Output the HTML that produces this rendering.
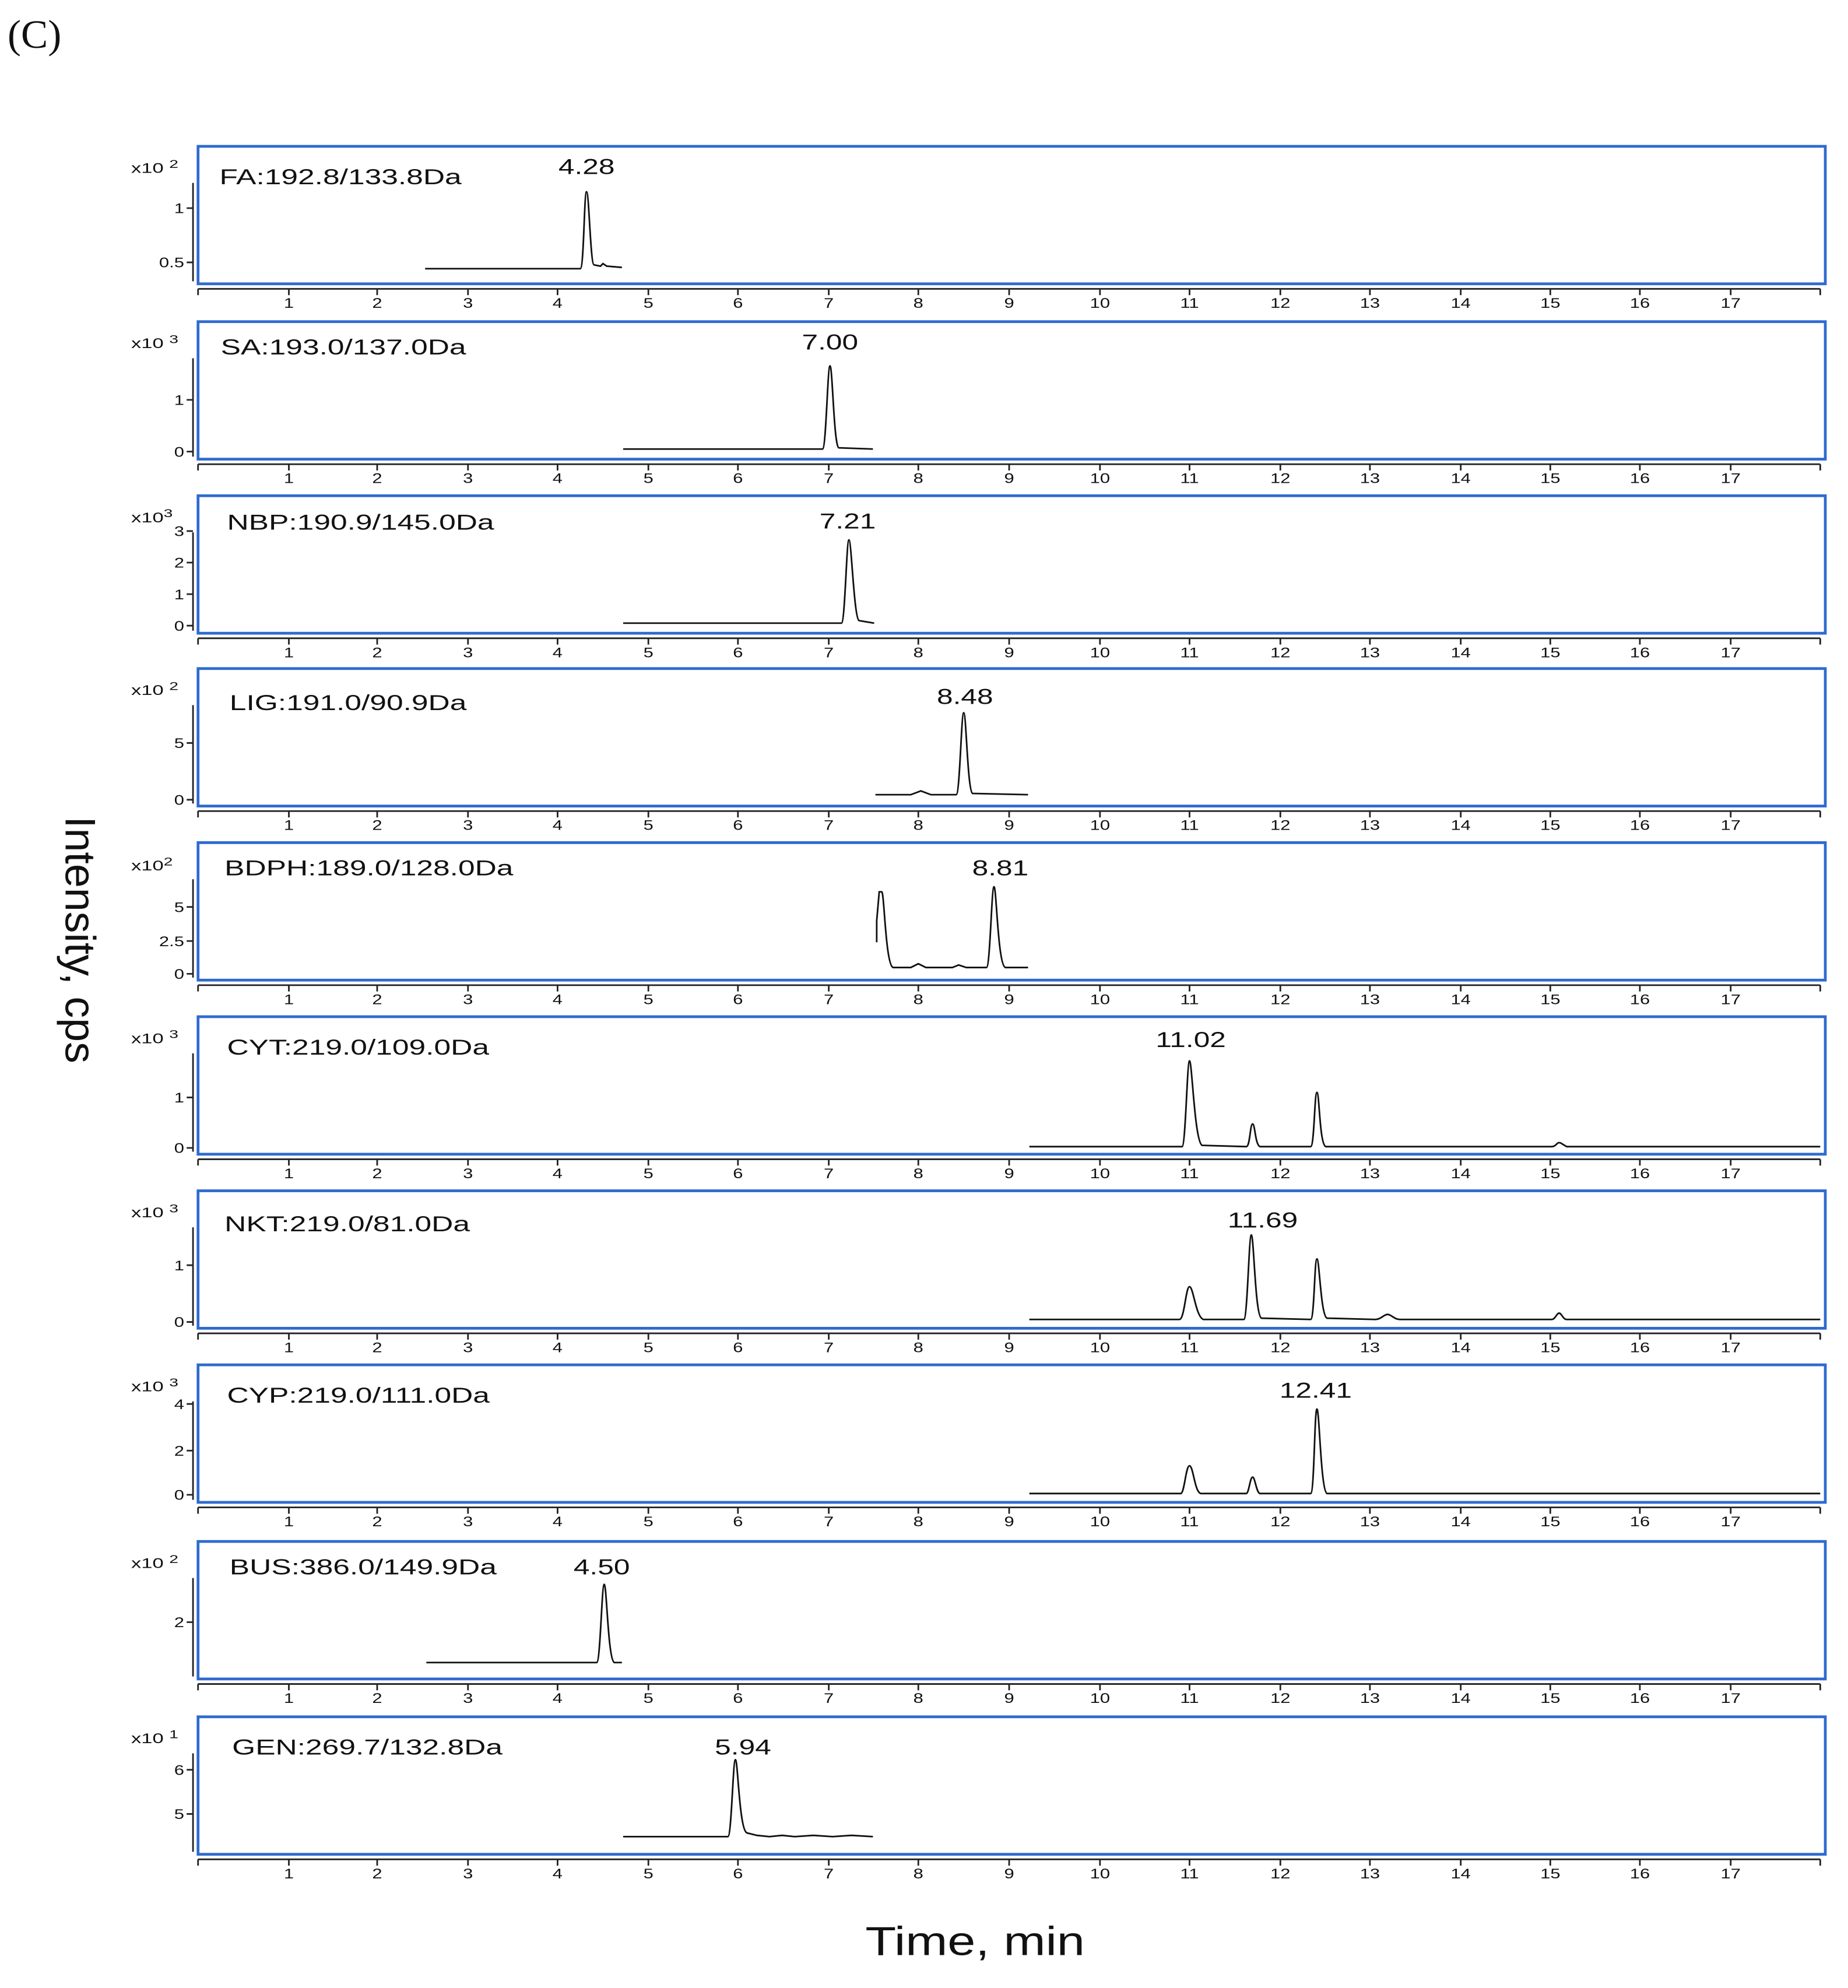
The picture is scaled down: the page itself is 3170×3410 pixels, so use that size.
<!DOCTYPE html>
<html><head><meta charset="utf-8"><style>
html,body{margin:0;padding:0;background:#fff;}
svg{display:block;}
text{font-family:"Liberation Sans",sans-serif;fill:#111;transform-box:fill-box;}
.t{font-size:11px;text-anchor:middle;transform-origin:50% 50%;transform:scaleX(1.3);}
.y{font-size:11px;text-anchor:end;transform-origin:100% 50%;transform:scaleX(1.3);}
.e{font-size:11px;transform-origin:0 50%;transform:scaleX(1.45);}
.lb{font-size:17px;transform-origin:0 50%;transform:scaleX(1.4);}
.pk{font-size:17px;text-anchor:middle;transform-origin:50% 50%;transform:scaleX(1.35);}
.box{fill:none;stroke:#2e6bd0;stroke-width:2.2;}
.ax{stroke:#222;stroke-width:1.3;fill:none;}
.tr{stroke:#111;stroke-width:1.3;fill:none;}
</style></head><body>
<svg width="3170" height="3410" viewBox="0 0 1465 1576" preserveAspectRatio="none" xmlns="http://www.w3.org/2000/svg">
<rect width="1465" height="1576" fill="#fff"/>
<text x="6" y="38" style="font-family:'Liberation Serif',serif;font-size:32px">(C)</text>
<text transform="translate(52,745) rotate(90)" style="font-size:34px;text-anchor:middle;transform-box:view-box">Intensity, cps</text>
<text x="773" y="1550" style="font-size:32px;text-anchor:middle;transform-origin:50% 50%;transform:scaleX(1.25)">Time, min</text>

<defs>
<g id="axis">
<rect class="box" x="157" y="116" width="1290" height="109"/>
<path class="ax" d="M157 229 L1443 229 M157 229 v5 M1443 229 v5 M229 229 v5 M299 229 v5 M371 229 v5 M442 229 v5 M514 229 v5 M585 229 v5 M657 229 v5 M728 229 v5 M800 229 v5 M872 229 v5 M943 229 v5 M1015 229 v5 M1086 229 v5 M1158 229 v5 M1229 229 v5 M1300 229 v5 M1372 229 v5"/>
<path d="M153 145 L153 223" class="ax"/>
</g>
</defs>

<g>
<use href="#axis" transform="translate(0,0)"/>
<use href="#axis" transform="translate(0,139)"/>
<use href="#axis" transform="translate(0,277)"/>
<use href="#axis" transform="translate(0,414)"/>
<use href="#axis" transform="translate(0,552)"/>
<use href="#axis" transform="translate(0,690)"/>
<use href="#axis" transform="translate(0,828)"/>
<use href="#axis" transform="translate(0,966)"/>
<use href="#axis" transform="translate(0,1106)"/>
<use href="#axis" transform="translate(0,1245)"/>
</g>

<g>
<text class="t" x="229" y="244">1</text><text class="t" x="299" y="244">2</text><text class="t" x="371" y="244">3</text><text class="t" x="442" y="244">4</text><text class="t" x="514" y="244">5</text><text class="t" x="585" y="244">6</text><text class="t" x="657" y="244">7</text><text class="t" x="728" y="244">8</text><text class="t" x="800" y="244">9</text><text class="t" x="872" y="244">10</text><text class="t" x="943" y="244">11</text><text class="t" x="1015" y="244">12</text><text class="t" x="1086" y="244">13</text><text class="t" x="1158" y="244">14</text><text class="t" x="1229" y="244">15</text><text class="t" x="1300" y="244">16</text><text class="t" x="1372" y="244">17</text>
</g>
<g transform="translate(0,139)"><text class="t" x="229" y="244">1</text><text class="t" x="299" y="244">2</text><text class="t" x="371" y="244">3</text><text class="t" x="442" y="244">4</text><text class="t" x="514" y="244">5</text><text class="t" x="585" y="244">6</text><text class="t" x="657" y="244">7</text><text class="t" x="728" y="244">8</text><text class="t" x="800" y="244">9</text><text class="t" x="872" y="244">10</text><text class="t" x="943" y="244">11</text><text class="t" x="1015" y="244">12</text><text class="t" x="1086" y="244">13</text><text class="t" x="1158" y="244">14</text><text class="t" x="1229" y="244">15</text><text class="t" x="1300" y="244">16</text><text class="t" x="1372" y="244">17</text></g>
<g transform="translate(0,277)"><text class="t" x="229" y="244">1</text><text class="t" x="299" y="244">2</text><text class="t" x="371" y="244">3</text><text class="t" x="442" y="244">4</text><text class="t" x="514" y="244">5</text><text class="t" x="585" y="244">6</text><text class="t" x="657" y="244">7</text><text class="t" x="728" y="244">8</text><text class="t" x="800" y="244">9</text><text class="t" x="872" y="244">10</text><text class="t" x="943" y="244">11</text><text class="t" x="1015" y="244">12</text><text class="t" x="1086" y="244">13</text><text class="t" x="1158" y="244">14</text><text class="t" x="1229" y="244">15</text><text class="t" x="1300" y="244">16</text><text class="t" x="1372" y="244">17</text></g>
<g transform="translate(0,414)"><text class="t" x="229" y="244">1</text><text class="t" x="299" y="244">2</text><text class="t" x="371" y="244">3</text><text class="t" x="442" y="244">4</text><text class="t" x="514" y="244">5</text><text class="t" x="585" y="244">6</text><text class="t" x="657" y="244">7</text><text class="t" x="728" y="244">8</text><text class="t" x="800" y="244">9</text><text class="t" x="872" y="244">10</text><text class="t" x="943" y="244">11</text><text class="t" x="1015" y="244">12</text><text class="t" x="1086" y="244">13</text><text class="t" x="1158" y="244">14</text><text class="t" x="1229" y="244">15</text><text class="t" x="1300" y="244">16</text><text class="t" x="1372" y="244">17</text></g>
<g transform="translate(0,552)"><text class="t" x="229" y="244">1</text><text class="t" x="299" y="244">2</text><text class="t" x="371" y="244">3</text><text class="t" x="442" y="244">4</text><text class="t" x="514" y="244">5</text><text class="t" x="585" y="244">6</text><text class="t" x="657" y="244">7</text><text class="t" x="728" y="244">8</text><text class="t" x="800" y="244">9</text><text class="t" x="872" y="244">10</text><text class="t" x="943" y="244">11</text><text class="t" x="1015" y="244">12</text><text class="t" x="1086" y="244">13</text><text class="t" x="1158" y="244">14</text><text class="t" x="1229" y="244">15</text><text class="t" x="1300" y="244">16</text><text class="t" x="1372" y="244">17</text></g>
<g transform="translate(0,690)"><text class="t" x="229" y="244">1</text><text class="t" x="299" y="244">2</text><text class="t" x="371" y="244">3</text><text class="t" x="442" y="244">4</text><text class="t" x="514" y="244">5</text><text class="t" x="585" y="244">6</text><text class="t" x="657" y="244">7</text><text class="t" x="728" y="244">8</text><text class="t" x="800" y="244">9</text><text class="t" x="872" y="244">10</text><text class="t" x="943" y="244">11</text><text class="t" x="1015" y="244">12</text><text class="t" x="1086" y="244">13</text><text class="t" x="1158" y="244">14</text><text class="t" x="1229" y="244">15</text><text class="t" x="1300" y="244">16</text><text class="t" x="1372" y="244">17</text></g>
<g transform="translate(0,828)"><text class="t" x="229" y="244">1</text><text class="t" x="299" y="244">2</text><text class="t" x="371" y="244">3</text><text class="t" x="442" y="244">4</text><text class="t" x="514" y="244">5</text><text class="t" x="585" y="244">6</text><text class="t" x="657" y="244">7</text><text class="t" x="728" y="244">8</text><text class="t" x="800" y="244">9</text><text class="t" x="872" y="244">10</text><text class="t" x="943" y="244">11</text><text class="t" x="1015" y="244">12</text><text class="t" x="1086" y="244">13</text><text class="t" x="1158" y="244">14</text><text class="t" x="1229" y="244">15</text><text class="t" x="1300" y="244">16</text><text class="t" x="1372" y="244">17</text></g>
<g transform="translate(0,966)"><text class="t" x="229" y="244">1</text><text class="t" x="299" y="244">2</text><text class="t" x="371" y="244">3</text><text class="t" x="442" y="244">4</text><text class="t" x="514" y="244">5</text><text class="t" x="585" y="244">6</text><text class="t" x="657" y="244">7</text><text class="t" x="728" y="244">8</text><text class="t" x="800" y="244">9</text><text class="t" x="872" y="244">10</text><text class="t" x="943" y="244">11</text><text class="t" x="1015" y="244">12</text><text class="t" x="1086" y="244">13</text><text class="t" x="1158" y="244">14</text><text class="t" x="1229" y="244">15</text><text class="t" x="1300" y="244">16</text><text class="t" x="1372" y="244">17</text></g>
<g transform="translate(0,1106)"><text class="t" x="229" y="244">1</text><text class="t" x="299" y="244">2</text><text class="t" x="371" y="244">3</text><text class="t" x="442" y="244">4</text><text class="t" x="514" y="244">5</text><text class="t" x="585" y="244">6</text><text class="t" x="657" y="244">7</text><text class="t" x="728" y="244">8</text><text class="t" x="800" y="244">9</text><text class="t" x="872" y="244">10</text><text class="t" x="943" y="244">11</text><text class="t" x="1015" y="244">12</text><text class="t" x="1086" y="244">13</text><text class="t" x="1158" y="244">14</text><text class="t" x="1229" y="244">15</text><text class="t" x="1300" y="244">16</text><text class="t" x="1372" y="244">17</text></g>
<g transform="translate(0,1245)"><text class="t" x="229" y="244">1</text><text class="t" x="299" y="244">2</text><text class="t" x="371" y="244">3</text><text class="t" x="442" y="244">4</text><text class="t" x="514" y="244">5</text><text class="t" x="585" y="244">6</text><text class="t" x="657" y="244">7</text><text class="t" x="728" y="244">8</text><text class="t" x="800" y="244">9</text><text class="t" x="872" y="244">10</text><text class="t" x="943" y="244">11</text><text class="t" x="1015" y="244">12</text><text class="t" x="1086" y="244">13</text><text class="t" x="1158" y="244">14</text><text class="t" x="1229" y="244">15</text><text class="t" x="1300" y="244">16</text><text class="t" x="1372" y="244">17</text></g>

<text class="e" x="104" y="137">x10 <tspan dy="-4" font-size="9">2</tspan></text>
<text class="e" x="104" y="276">x10 <tspan dy="-4" font-size="9">3</tspan></text>
<text class="e" x="104" y="414">x10<tspan dy="-4" font-size="9">3</tspan></text>
<text class="e" x="104" y="551">x10 <tspan dy="-4" font-size="9">2</tspan></text>
<text class="e" x="104" y="690">x10<tspan dy="-4" font-size="9">2</tspan></text>
<text class="e" x="104" y="827">x10 <tspan dy="-4" font-size="9">3</tspan></text>
<text class="e" x="104" y="965">x10 <tspan dy="-4" font-size="9">3</tspan></text>
<text class="e" x="104" y="1103">x10 <tspan dy="-4" font-size="9">3</tspan></text>
<text class="e" x="104" y="1243">x10 <tspan dy="-4" font-size="9">2</tspan></text>
<text class="e" x="104" y="1382">x10 <tspan dy="-4" font-size="9">1</tspan></text>

<path class="ax" d="M148 165h5 M148 208h5 M148 317h5 M148 358h5 M148 421h5 M148 446h5 M148 471h5 M148 496h5 M148 589h5 M148 634h5 M148 719h5 M148 746h5 M148 772h5 M148 870h5 M148 910h5 M148 1003h5 M148 1048h5 M148 1113h5 M148 1150h5 M148 1185h5 M148 1286h5 M148 1403h5 M148 1438h5"/>
<text class="y" x="146" y="169">1</text><text class="y" x="146" y="212">0.5</text>
<text class="y" x="146" y="321">1</text><text class="y" x="146" y="362">0</text>
<text class="y" x="146" y="425">3</text><text class="y" x="146" y="450">2</text><text class="y" x="146" y="475">1</text><text class="y" x="146" y="500">0</text>
<text class="y" x="146" y="593">5</text><text class="y" x="146" y="638">0</text>
<text class="y" x="146" y="723">5</text><text class="y" x="146" y="750">2.5</text><text class="y" x="146" y="776">0</text>
<text class="y" x="146" y="874">1</text><text class="y" x="146" y="914">0</text>
<text class="y" x="146" y="1007">1</text><text class="y" x="146" y="1052">0</text>
<text class="y" x="146" y="1117">4</text><text class="y" x="146" y="1154">2</text><text class="y" x="146" y="1189">0</text>
<text class="y" x="146" y="1290">2</text>
<text class="y" x="146" y="1407">6</text><text class="y" x="146" y="1442">5</text>

<text class="lb" x="174" y="146">FA:192.8/133.8Da</text><text class="pk" x="465" y="138">4.28</text>
<text class="lb" x="175" y="281">SA:193.0/137.0Da</text><text class="pk" x="658" y="277">7.00</text>
<text class="lb" x="180" y="420">NBP:190.9/145.0Da</text><text class="pk" x="672" y="419">7.21</text>
<text class="lb" x="182" y="563">LIG:191.0/90.9Da</text><text class="pk" x="765" y="558">8.48</text>
<text class="lb" x="178" y="694">BDPH:189.0/128.0Da</text><text class="pk" x="793" y="694">8.81</text>
<text class="lb" x="180" y="836">CYT:219.0/109.0Da</text><text class="pk" x="944" y="830">11.02</text>
<text class="lb" x="178" y="976">NKT:219.0/81.0Da</text><text class="pk" x="1001" y="973">11.69</text>
<text class="lb" x="180" y="1112">CYP:219.0/111.0Da</text><text class="pk" x="1043" y="1108">12.41</text>
<text class="lb" x="182" y="1248">BUS:386.0/149.9Da</text><text class="pk" x="477" y="1248">4.50</text>
<text class="lb" x="184" y="1391">GEN:269.7/132.8Da</text><text class="pk" x="589" y="1391">5.94</text>

<path class="tr" d="M337 213 L460 213 C463 213 463 152 465 152 C467 152 468 210 471 210 L476 211 L478 209 L481 211 L493 212"/>
<path class="tr" d="M494 356 L652 356 C655 356 656 290 658 290 C660 290 661 354 665 355 L692 356"/>
<path class="tr" d="M494 494 L667 494 C670 494 671 428 673 428 C675 428 677 490 681 492 L693 494"/>
<path class="tr" d="M694 630 L722 630 L730 627 L738 630 L758 630 C761 630 762 565 764 565 C766 565 767 627 771 629 L815 630"/>
<path class="tr" d="M695 747 L695 730 L697 707 L699 707 C701 707 702 765 708 767 L722 767 L728 764 L734 767 L755 767 L760 765 L766 767 L782 767 C785 767 786 703 788 703 C790 703 791 765 797 767 L815 767"/>
<path class="tr" d="M816 909 L937 909 C940 909 941 841 943 841 C945 841 947 905 953 908 L988 909 C991 909 991 891 993 891 C995 891 995 908 999 909 L1039 909 C1042 909 1042 866 1044 866 C1046 866 1046 907 1051 909 L1230 909 C1234 909 1234 905 1237 906 L1242 909 L1443 909"/>
<path class="tr" d="M816 1046 L935 1046 C939 1046 940 1020 943 1020 C946 1020 948 1044 954 1046 L986 1046 C989 1046 990 979 992 979 C994 979 995 1043 1000 1045 L1039 1046 C1042 1046 1042 998 1044 998 C1046 998 1047 1043 1052 1045 L1090 1046 C1095 1046 1097 1042 1100 1042 C1103 1042 1105 1046 1110 1046 L1230 1046 C1233 1046 1234 1041 1236 1041 C1238 1041 1239 1046 1242 1046 L1443 1046"/>
<path class="tr" d="M816 1184 L936 1184 C939 1184 940 1162 943 1162 C946 1162 947 1183 952 1184 L988 1184 C990 1184 991 1171 993 1171 C995 1171 996 1184 999 1184 L1039 1184 C1042 1184 1042 1117 1044 1117 C1046 1117 1047 1182 1052 1184 L1443 1184"/>
<path class="tr" d="M338 1318 L473 1318 C476 1318 477 1256 479 1256 C481 1256 482 1316 487 1318 L493 1318"/>
<path class="tr" d="M494 1456 L577 1456 C580 1456 581 1395 583 1395 C585 1395 586 1450 592 1453 L600 1455 L610 1456 L620 1455 L630 1456 L645 1455 L660 1456 L675 1455 L692 1456"/>
</svg>
</body></html>
